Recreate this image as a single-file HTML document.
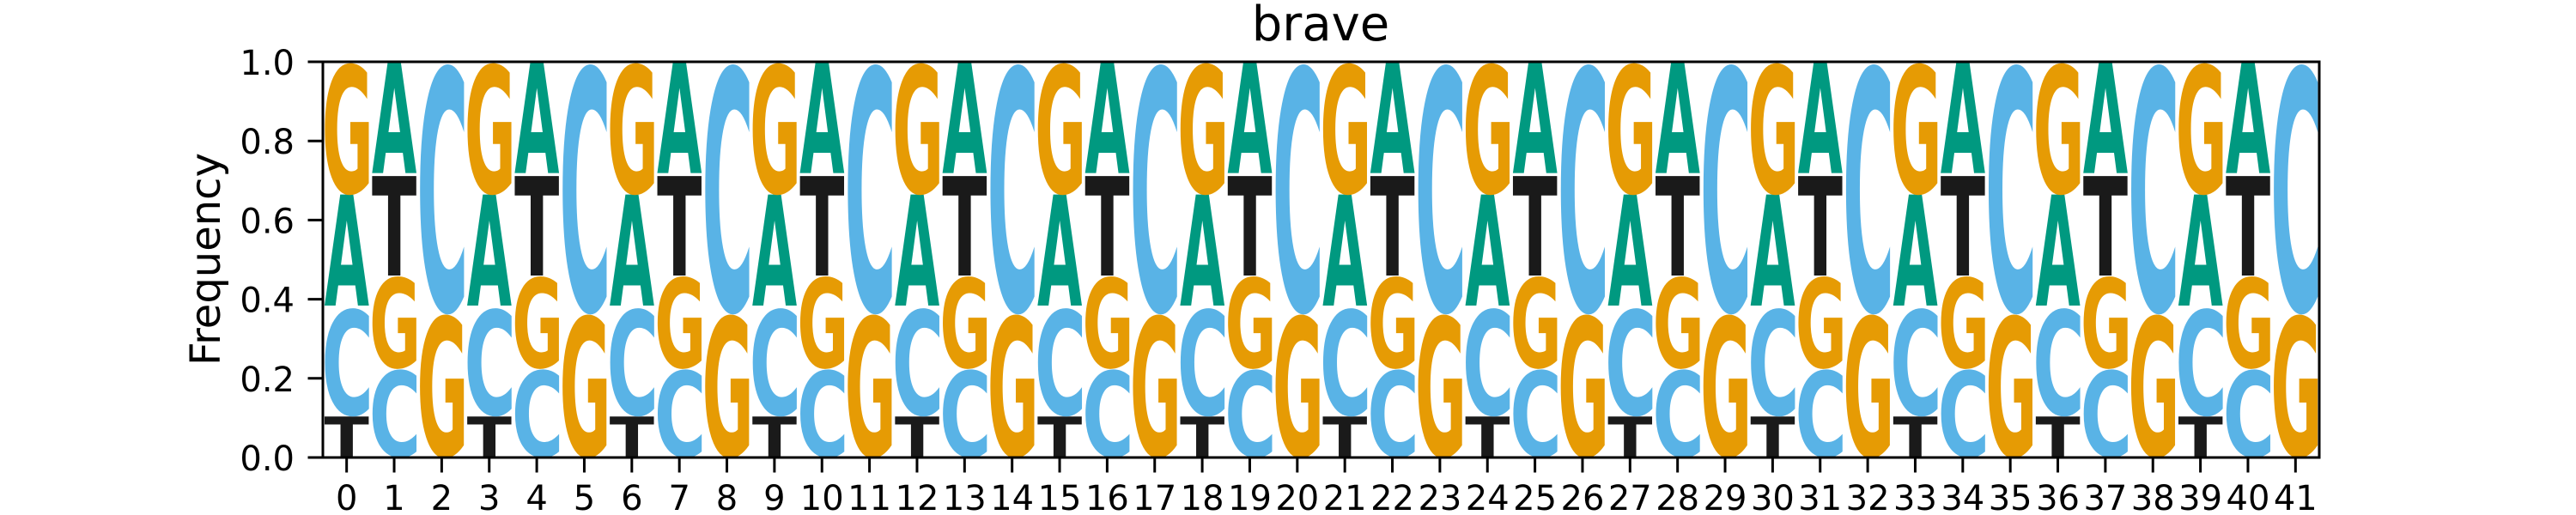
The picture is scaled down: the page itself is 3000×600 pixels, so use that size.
<!DOCTYPE html>
<html><head><meta charset="utf-8">
<style>
html,body{margin:0;padding:0;background:#fff;}
svg{display:block;}
text{font-family:"DejaVu Sans","Liberation Sans",sans-serif;}
</style></head>
<body>
<svg id="chart" width="3000" height="600" viewBox="0 0 3000 600" xmlns="http://www.w3.org/2000/svg">
  <text x="1538" y="47" font-size="56" text-anchor="middle" fill="#000">brave</text>
  <text transform="translate(256,302) rotate(-90)" font-size="48" text-anchor="middle" fill="#000">Frequency</text>
  <g id="letters"></g>
  <g id="axes"></g>
</svg>
<script>
const positions = [0,1,2,3,4,5,6,7,8,9,10,11,12,13,14,15,16,17,18,19,20,21,22,23,24,25,26,27,28,29,30,31,32,33,34,35,36,37,38,39,40,41];
const freqA = [0.285,0.285,0,0.285,0.285,0,0.285,0.285,0,0.285,0.285,0,0.285,0.285,0,0.285,0.285,0,0.285,0.285,0,0.285,0.285,0,0.285,0.285,0,0.285,0.285,0,0.285,0.285,0,0.285,0.285,0,0.285,0.285,0,0.285,0.285,0];
const freqC = [0.275,0.225,0.635,0.275,0.225,0.635,0.275,0.225,0.635,0.275,0.225,0.635,0.275,0.225,0.635,0.275,0.225,0.635,0.275,0.225,0.635,0.275,0.225,0.635,0.275,0.225,0.635,0.275,0.225,0.635,0.275,0.225,0.635,0.275,0.225,0.635,0.275,0.225,0.635,0.275,0.225,0.635];
const freqG = [0.335,0.235,0.365,0.335,0.235,0.365,0.335,0.235,0.365,0.335,0.235,0.365,0.335,0.235,0.365,0.335,0.235,0.365,0.335,0.235,0.365,0.335,0.235,0.365,0.335,0.235,0.365,0.335,0.235,0.365,0.335,0.235,0.365,0.335,0.235,0.365,0.335,0.235,0.365,0.335,0.235,0.365];
const freqT = [0.105,0.255,0,0.105,0.255,0,0.105,0.255,0,0.105,0.255,0,0.105,0.255,0,0.105,0.255,0,0.105,0.255,0,0.105,0.255,0,0.105,0.255,0,0.105,0.255,0,0.105,0.255,0,0.105,0.255,0,0.105,0.255,0,0.105,0.255,0];
const yTickValues = [0,0.2,0.4,0.6,0.8,1.0];
const yTickLabels = ["0.0","0.2","0.4","0.6","0.8","1.0"];

const NS = "http://www.w3.org/2000/svg";
const L = 376, R = 2701, T = 72, B = 533;
const xMin = -0.5, xMax = positions.length - 0.5;
function xScale(v){ return L + (v - xMin) / (xMax - xMin) * (R - L); }
function yScale(v){ return B - v * (B - T); }
const unit = (R - L) / (xMax - xMin);
const colors = {A:"#009980", C:"#59B3E6", G:"#E69B04", T:"#1A1A1A"};

const cv = document.createElement("canvas").getContext("2d");
const FS = 100;
cv.font = "bold " + FS + "px 'DejaVu Sans'";
const metrics = {};
["A","C","G","T"].forEach(ch => {
  const m = cv.measureText(ch);
  metrics[ch] = {l:m.actualBoundingBoxLeft, r:m.actualBoundingBoxRight, a:m.actualBoundingBoxAscent, d:m.actualBoundingBoxDescent};
});

const lg = document.getElementById("letters");
positions.forEach((p, i) => {
  const col = [["A",freqA[i]],["C",freqC[i]],["G",freqG[i]],["T",freqT[i]]].filter(e => e[1] > 0);
  col.sort((a,b) => a[1] - b[1]);
  let cum = 0;
  col.forEach(([ch, v]) => {
    const yb = yScale(cum), yt = yScale(cum + v);
    cum += v;
    const bw = unit * 0.94, bx = xScale(p) - bw / 2, by = yt, bh = yb - yt;
    const m = metrics[ch];
    const sx = bw / (m.l + m.r), sy = bh / (m.a + m.d);
    const t = document.createElementNS(NS, "text");
    
    
    t.setAttribute("font-size", FS);
    t.setAttribute("font-weight", "bold");
    t.setAttribute("fill", colors[ch]);
    t.setAttribute("transform", `translate(${bx},${by}) scale(${sx},${sy}) translate(${m.l},${m.a})`);
    t.textContent = ch;
    lg.appendChild(t);
  });
});

const ax = document.getElementById("axes");
function line(x1,y1,x2,y2,name){
  const l = document.createElementNS(NS,"line");
  
  
  l.setAttribute("x1",x1);l.setAttribute("y1",y1);l.setAttribute("x2",x2);l.setAttribute("y2",y2);
  l.setAttribute("stroke","#000");l.setAttribute("stroke-width","3");l.setAttribute("stroke-linecap","square");
  ax.appendChild(l);
}
line(L,T,R,T,"top-spine");
line(L,B,R,B,"x-axis-line");
line(L,T,L,B,"y-axis-line");
line(R,T,R,B,"right-spine");
yTickValues.forEach((v,i) => {
  const y = yScale(v);
  line(L-16,y,L,y,"y-tick");
  const t = document.createElementNS(NS,"text");
  
  
  t.setAttribute("x", 343); t.setAttribute("y", y + 15);
  t.setAttribute("font-size", 40); t.setAttribute("text-anchor","end");
  t.textContent = yTickLabels[i];
  ax.appendChild(t);
});
positions.forEach(p => {
  const x = xScale(p);
  line(x,B,x,B+16,"x-tick");
  const t = document.createElementNS(NS,"text");
  
  
  t.setAttribute("x", x); t.setAttribute("y", 594);
  t.setAttribute("font-size", 40); t.setAttribute("text-anchor","middle");
  t.textContent = String(p);
  ax.appendChild(t);
});
</script>
</body></html>
